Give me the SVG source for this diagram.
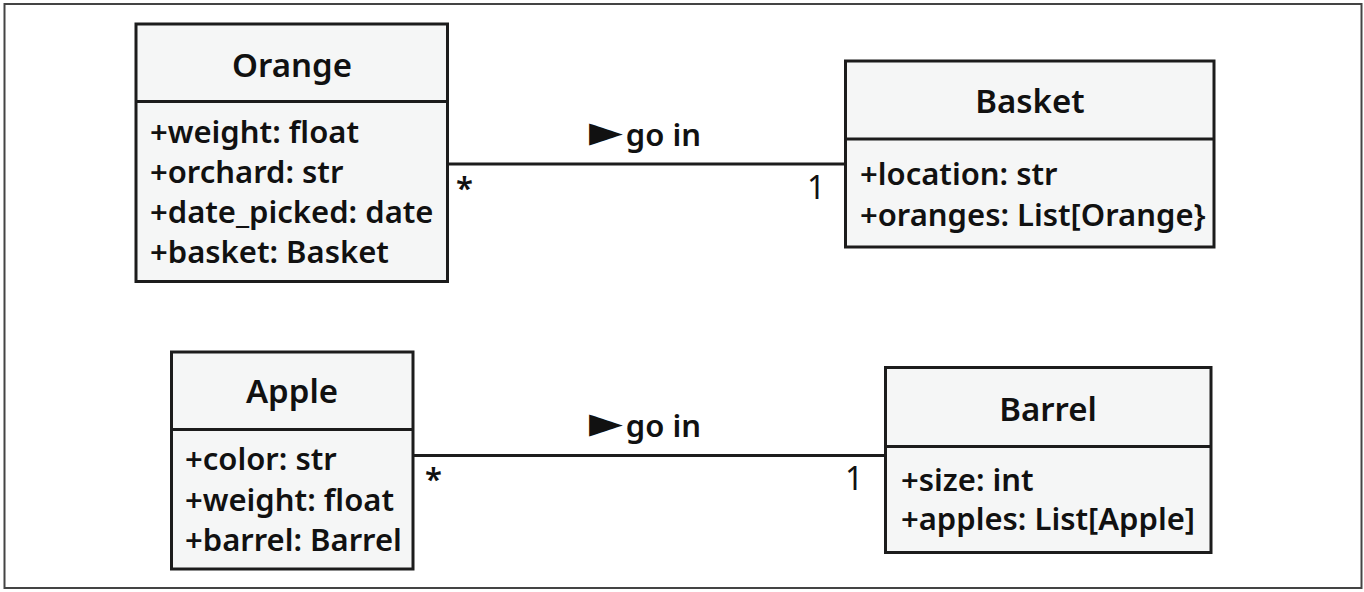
<svg xmlns="http://www.w3.org/2000/svg" width="1364" height="592" viewBox="0 0 1364 592">
<style>
.box{fill:#f5f6f6;stroke:#1c1c1c;stroke-width:3}
.div{stroke:#1c1c1c;stroke-width:3}
.conn{stroke:#1c1c1c;stroke-width:3;fill:none}
.title{font-family:"Noto Sans","Open Sans",sans-serif;font-size:33px;font-weight:600;fill:#111;text-anchor:middle}
.attr{font-family:"Noto Sans","Open Sans",sans-serif;font-size:31px;font-weight:600;fill:#111}
.lbl{font-family:"Noto Sans","Open Sans",sans-serif;font-size:31px;font-weight:600;fill:#111}
.one{font-family:"Noto Sans","Open Sans",sans-serif;font-size:32px;font-weight:400;fill:#111}
.tri{font-family:"DejaVu Sans",sans-serif;font-size:44px}
</style>
<rect x="0" y="0" width="1364" height="592" fill="#ffffff"/>
<rect x="4.5" y="4" width="1357" height="584" fill="none" stroke="#444" stroke-width="2"/>
<g id="connectors">
  <line class="conn" x1="448" y1="164" x2="845" y2="164"/>
  <line class="conn" x1="413" y1="455.5" x2="885" y2="455.5"/>
  <text class="lbl" x="589" y="146"><tspan class="tri">►</tspan><tspan dx="3">go in</tspan></text>
  <text class="lbl" x="456" y="199">*</text>
  <text class="one" x="807" y="199">1</text>
  <text class="lbl" x="589" y="437"><tspan class="tri">►</tspan><tspan dx="3">go in</tspan></text>
  <text class="lbl" x="425" y="490">*</text>
  <text class="one" x="845" y="490">1</text>
</g>
<g id="orange">
  <rect class="box" x="136" y="24" width="311.5" height="257.5"/>
  <line class="div" x1="136" y1="101.5" x2="447.5" y2="101.5"/>
  <text class="title" x="292" y="77">Orange</text>
  <text class="attr" x="150" y="143">+weight: float</text>
  <text class="attr" x="150" y="183">+orchard: str</text>
  <text class="attr" x="150" y="223">+date_picked: date</text>
  <text class="attr" x="150" y="263">+basket: Basket</text>
</g>
<g id="basket">
  <rect class="box" x="845.5" y="61" width="368.5" height="186"/>
  <line class="div" x1="845.5" y1="139" x2="1214" y2="139"/>
  <text class="title" x="1030" y="112.5">Basket</text>
  <text class="attr" x="860" y="185">+location: str</text>
  <text class="attr" x="860" y="226">+oranges: List[Orange}</text>
</g>
<g id="apple">
  <rect class="box" x="171.5" y="352" width="241.5" height="217"/>
  <line class="div" x1="171.5" y1="429.5" x2="413" y2="429.5"/>
  <text class="title" x="292" y="403">Apple</text>
  <text class="attr" x="185" y="470">+color: str</text>
  <text class="attr" x="185" y="511">+weight: float</text>
  <text class="attr" x="185" y="551">+barrel: Barrel</text>
</g>
<g id="barrel">
  <rect class="box" x="885.5" y="367.5" width="325.5" height="185"/>
  <line class="div" x1="885.5" y1="446.5" x2="1211" y2="446.5"/>
  <text class="title" x="1048" y="421">Barrel</text>
  <text class="attr" x="901" y="491">+size: int</text>
  <text class="attr" x="901" y="530">+apples: List[Apple]</text>
</g>
</svg>
